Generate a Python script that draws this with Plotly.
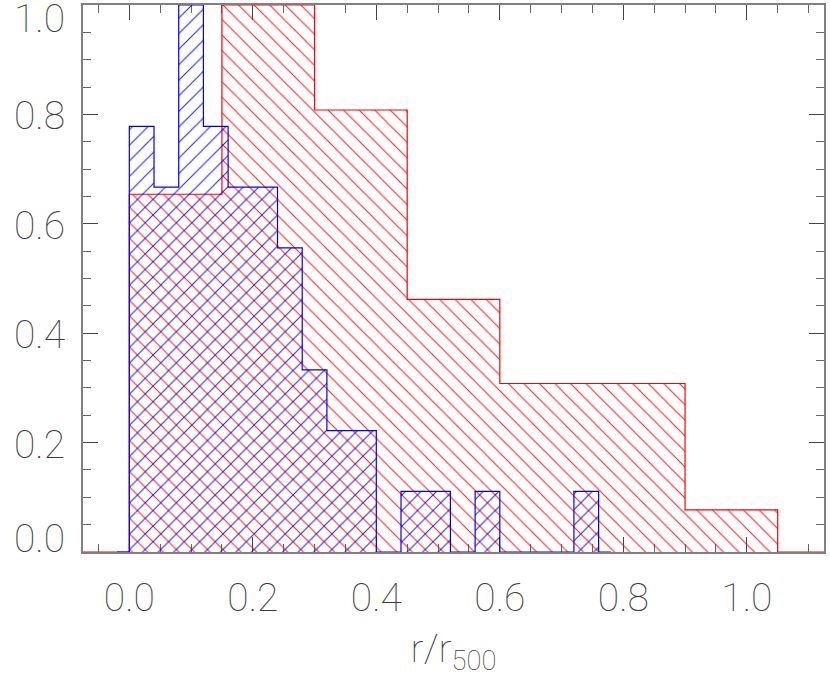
import plotly.graph_objects as go

# ---- data ----
red_edges = [0.00, 0.15, 0.30, 0.45, 0.60, 0.75, 0.90, 1.05]
red_frac = [0.654, 1.000, 0.808, 0.462, 0.308, 0.308, 0.077]

blue_edges = [0.00, 0.04, 0.08, 0.12, 0.16, 0.20, 0.24, 0.28, 0.32, 0.36,
              0.40, 0.44, 0.48, 0.52, 0.56, 0.60, 0.64, 0.68, 0.72, 0.76]
blue_frac = [0.778, 0.667, 1.000, 0.778, 0.667, 0.667, 0.556, 0.333, 0.222, 0.222,
             0.000, 0.111, 0.111, 0.000, 0.111, 0.000, 0.000, 0.000, 0.111]

x_ticks = [0.0, 0.2, 0.4, 0.6, 0.8, 1.0]
y_ticks = [0.0, 0.2, 0.4, 0.6, 0.8, 1.0]


def step(edges, vals):
    w = edges[1] - edges[0]
    xs = [edges[0] - w / 2] + list(edges) + [edges[-1] + w / 2]
    ys = [0] + list(vals) + [0, 0]
    return xs, ys


FONT = dict(family="Roboto, Lato, DejaVu Sans", size=39, color="#3c3c3c", weight=100)

fig = go.Figure()
for edges, vals, col, shape in [(red_edges, red_frac, "#ff0000", "\\"),
                                (blue_edges, blue_frac, "#0000ff", "/")]:
    xs, ys = step(edges, vals)
    fig.add_trace(go.Scatter(
        x=xs, y=ys, mode="lines", line=dict(color=col, width=1.2, shape="hv"),
        fill="tozeroy", fillcolor="rgba(0,0,0,0)",
        fillpattern=dict(shape=shape, fgcolor=col, bgcolor="rgba(0,0,0,0)",
                         size=11, solidity=0.09, fgopacity=0.9),
        hoverinfo="skip", showlegend=False))

axis_common = dict(showline=True, linecolor="#808080", linewidth=1.5, mirror="allticks",
                   ticks="inside", ticklen=15, tickwidth=1, tickcolor="#444444",
                   showgrid=False, zeroline=False, tickfont=FONT, layer="below traces",
                   tickformat=".1f", automargin=False, ticklabeloverflow="allow",
                   minor=dict(ticks="inside", ticklen=8, dtick=0.05, tickcolor="#666666",
                              tickwidth=1, showgrid=False))

fig.update_xaxes(range=[-0.075, 1.125], tickvals=x_ticks, ticklabelstandoff=10,
                 title=dict(text="r/r<sub>500</sub>", font=FONT, standoff=20),
                 **axis_common)
fig.update_yaxes(range=[0, 1.0], tickvals=y_ticks, showticklabels=False, **axis_common)
fig.update_xaxes(minor=dict(tick0=0.0))
fig.update_yaxes(minor=dict(tick0=0.0))

# y tick labels kept inside the axis span (outer labels pulled inward, as in the reference)
for v in y_ticks:
    if v == max(y_ticks):
        ys = -14
    elif v == min(y_ticks):
        ys = 13
    else:
        ys = -2
    fig.add_annotation(text=f"{v:.1f}", x=0, xref="paper", y=v, yref="y",
                       xanchor="right", yanchor="middle", xshift=-16, yshift=ys,
                       showarrow=False, font=FONT)

fig.update_layout(width=830, height=677, margin=dict(l=83, r=6, t=5, b=125),
                  plot_bgcolor="white", paper_bgcolor="white")

fig.write_html("out.html", config={"displayModeBar": False},
               post_script="document.body.style.margin='0';")
